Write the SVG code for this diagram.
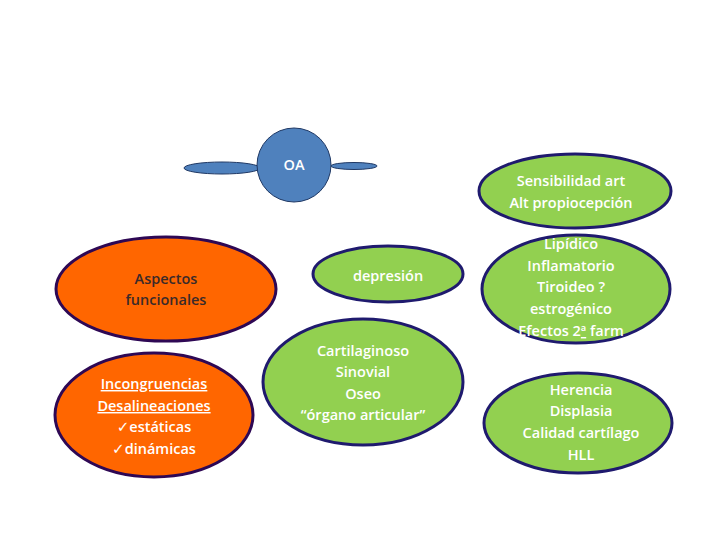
<svg xmlns="http://www.w3.org/2000/svg" width="720" height="540" viewBox="0 0 720 540">
<style>
.g{fill:#92D050;stroke:#1F1A6E;stroke-width:3}
.o{fill:#FF6600;stroke:#2E0854;stroke-width:3}
.b{fill:#4F81BD;stroke:#1F3864;stroke-width:1}
text{font-family:"Open Sans","Liberation Sans",sans-serif;font-size:14.5px;font-weight:600;text-anchor:middle}
.w{fill:#FFFFFF}
.d{fill:#3A2A2A}
.u{text-decoration:underline}
</style>
<rect width="720" height="540" fill="#FFFFFF"/>
<g id="connectors"></g>
<g id="oa">
<ellipse class="b" cx="222" cy="168" rx="38" ry="6"/>
<ellipse class="b" cx="354" cy="166" rx="23" ry="3.5"/>
<circle class="b" cx="294" cy="165" r="37"/>
<text class="w" x="294" y="170">OA</text>
</g>
<g id="aspectos">
<ellipse class="o" cx="166" cy="289" rx="110" ry="52"/>
<text class="d" x="166" y="284">Aspectos</text>
<text class="d" x="166" y="305">funcionales</text>
</g>
<g id="incongruencias">
<ellipse class="o" cx="154" cy="415" rx="99" ry="62"/>
<text class="w u" x="154" y="389">Incongruencias</text>
<text class="w u" x="154" y="411">Desalineaciones</text>
<text class="w" x="154" y="432"><tspan font-family="DejaVu Sans" font-weight="normal" font-size="15">✓</tspan>estáticas</text>
<text class="w" x="154" y="454"><tspan font-family="DejaVu Sans" font-weight="normal" font-size="15">✓</tspan>dinámicas</text>
</g>
<g id="depresion">
<ellipse class="g" cx="388" cy="274" rx="75" ry="28"/>
<text class="w" x="388" y="281">depresión</text>
</g>
<g id="cartilaginoso">
<ellipse class="g" cx="363" cy="382" rx="100" ry="63"/>
<text class="w" x="363" y="356">Cartilaginoso</text>
<text class="w" x="363" y="377">Sinovial</text>
<text class="w" x="363" y="399">Oseo</text>
<text class="w" x="363" y="420">“órgano articular”</text>
</g>
<g id="sensibilidad">
<ellipse class="g" cx="575" cy="191" rx="96" ry="37"/>
<text class="w" x="571" y="186">Sensibilidad art</text>
<text class="w" x="571" y="208">Alt propiocepción</text>
</g>
<g id="lipidico">
<ellipse class="g" cx="576" cy="289" rx="94" ry="54"/>
<text class="w" x="571" y="249">Lipídico</text>
<text class="w" x="571" y="271">Inflamatorio</text>
<text class="w" x="571" y="292">Tiroideo ?</text>
<text class="w" x="571" y="314">estrogénico</text>
<text class="w" x="571" y="336">Efectos 2<tspan text-decoration="underline">ª</tspan> farm</text>
</g>
<g id="herencia">
<ellipse class="g" cx="578" cy="423" rx="94" ry="50"/>
<text class="w" x="581" y="395">Herencia</text>
<text class="w" x="581" y="416">Displasia</text>
<text class="w" x="581" y="438">Calidad cartílago</text>
<text class="w" x="581" y="460">HLL</text>
</g>
</svg>
